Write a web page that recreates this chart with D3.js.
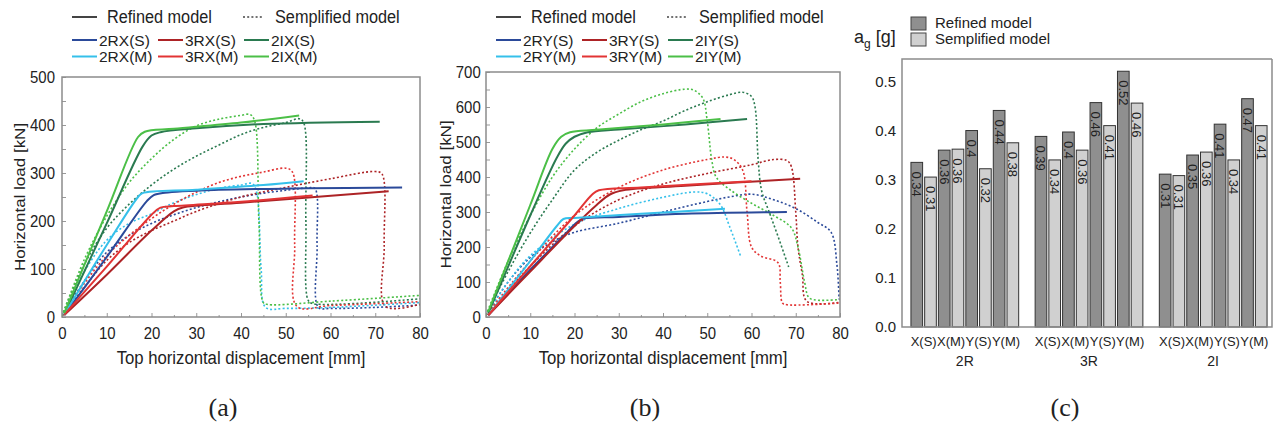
<!DOCTYPE html>
<html>
<head>
<meta charset="utf-8">
<script src="https://cdn.jsdelivr.net/npm/d3@7"></script>
<style>
body { margin: 0; background: #fff; }
text { font-family: "Liberation Sans", Arial, sans-serif; fill: #222; }
</style>
</head>
<body>
<svg id="fig" width="1274" height="426"></svg>
<script>

// ---- panel (a): X direction, [displacement mm, load kN]
var ref2RXS = [[0.5,4],[10,125],[19,242],[20.5,254],[23,259],[35,265],[55,268],[76,270]];
var ref2RXM = [[0.5,5],[10,150],[17,250],[18,258],[30,265],[45,275],[54,283]];
var ref3RXS = [[0.5,4],[10,88],[20,180],[25,220],[27,228],[40,238],[73,262]];
var ref3RXM = [[0.5,5],[10,105],[20,213],[22,228],[25,231],[40,240],[56,253]];
var ref2IXS = [[0.5,5],[10,195],[18,355],[20,378],[22,385],[30,393],[45,402],[71,407]];
var ref2IXM = [[0.5,8],[10,220],[17,375],[18.5,386],[25,392],[40,405],[53,420]];

var sem2RXS = [[0,2],[5,75],[10,135],[15,170],[20,195],[25,213],[30,228],[35,240],[40,250],[45,258],[50,264],[55,269],[56.5,268],[57,150],[57.3,20],[60,18],[70,20],[80,25]];
var sem2RXM = [[0,2],[5,95],[10,160],[15,195],[20,215],[25,238],[30,255],[35,268],[40,275],[42.5,278],[43.5,260],[44.5,100],[45.5,20],[50,18],[60,20],[80,30]];
var sem3RXS = [[0,2],[5,62],[10,118],[15,155],[20,180],[25,200],[30,220],[40,250],[50,270],[60,288],[70,303],[71.5,298],[72,150],[72.3,22],[80,27]];
var sem3RXM = [[0,2],[5,70],[10,128],[15,170],[20,205],[25,235],[30,260],[35,280],[40,293],[45,302],[50,310],[51.5,302],[52,150],[52.5,22],[60,24],[80,32]];
var sem2IXS = [[0,2],[5,110],[10,185],[15,235],[20,275],[25,308],[30,335],[35,358],[40,380],[45,395],[50,405],[53,413],[54,405],[54.5,200],[55,35],[56,28],[80,38]];
var sem2IXM = [[0,2],[5,120],[10,210],[15,280],[20,330],[25,370],[30,398],[35,412],[40,420],[42,422],[43,410],[44,200],[45,30],[46,26],[60,33],[80,45]];

// ---- panel (b): Y direction
var ref2RYS = [[0.5,5],[10,135],[18,238],[20.5,270],[22,281],[30,286],[45,295],[68,300]];
var ref2RYM = [[0.5,5],[10,160],[16,260],[17.5,280],[20,283],[35,295],[54,309]];
var ref3RYS = [[0.5,5],[10,130],[20,260],[25,320],[28,350],[31,362],[45,375],[71,395]];
var ref3RYM = [[0.5,5],[10,145],[20,290],[24,350],[25.5,362],[35,370],[60,388]];
var ref2IYS = [[0.5,10],[10,290],[16,455],[18,495],[20,515],[23,528],[30,536],[45,550],[59,566]];
var ref2IYM = [[0.5,15],[10,320],[15,480],[17,515],[19,528],[25,535],[40,550],[53,566]];

var sem2RYS = [[0,5],[5,100],[10,170],[15,215],[20,242],[30,268],[40,300],[50,330],[55,343],[60,351],[65,335],[70,310],[75,270],[78,242],[79.3,150],[79.8,50]];
var sem2RYM = [[0,5],[5,100],[10,175],[20,265],[30,310],[40,342],[47,357],[50,352],[53,320],[55,260],[57.5,175]];
var sem3RYS = [[0,5],[10,145],[20,260],[30,335],[40,380],[50,410],[60,435],[65,450],[68,447],[69,430],[70,300],[70.5,200],[71.5,120],[72.5,45],[80,42]];
var sem3RYM = [[0,5],[10,160],[20,290],[30,370],[40,420],[50,450],[54,457],[56,450],[58,420],[59,300],[60,200],[62,175],[66,155],[66.5,100],[67,40],[68,35],[80,40]];
var sem2IYS = [[0,5],[5,130],[10,240],[15,335],[20,420],[25,470],[30,505],[35,535],[40,560],[45,590],[50,615],[55,635],[58,642],[60,630],[60.8,600],[61.5,450],[62.3,360],[64,300],[66,230],[68.4,143]];
var sem2IYM = [[0,5],[5,160],[10,290],[15,400],[20,480],[25,540],[30,580],[35,615],[40,638],[45,651],[47,648],[49,625],[50,560],[51,450],[52,400],[55,365],[60,325],[65,290],[69,255],[70.5,200],[72,100],[73,55],[75,48],[80,50]];

// ---- panel (c): a_g [g]
var groups = ["2R", "3R", "2I"];
var cases = ["X(S)", "X(M)", "Y(S)", "Y(M)"];
var models = ["Refined model", "Semplified model"];
var refined2R = [0.336, 0.361, 0.401, 0.442];
var semplified2R = [0.306, 0.363, 0.323, 0.376];
var refined3R = [0.389, 0.398, 0.458, 0.522];
var semplified3R = [0.341, 0.361, 0.411, 0.457];
var refined2I = [0.312, 0.351, 0.414, 0.466];
var semplified2I = [0.309, 0.357, 0.341, 0.411];

var xTicks = [0, 10, 20, 30, 40, 50, 60, 70, 80];

var colS = {"2R": "#2b4a9a", "3R": "#ad2326", "2I": "#2a7a50"};
var colM = {"2R": "#35c0ea", "3R": "#e23434", "2I": "#4bbf47"};

var sq = 0.88;   // the source figure is a bit squeezed sideways
var svg = d3.select("#fig");

function label(g, x, y, str, size, anchor, s) {
  return g.append("text")
      .attr("transform", "translate(" + x + "," + y + ") scale(" + (s || sq) + ",1)")
      .attr("text-anchor", anchor || "start")
      .style("font-size", size + "px")
      .text(str);
}

function curvePanel(o) {
  var x = d3.scaleLinear().domain([0, 80]).range([o.left, o.right]);
  var y = d3.scaleLinear().domain([0, o.ymax]).range([o.bottom, o.top]);
  var g = svg.append("g");

  // inward ticks, major + minor
  g.append("g").attr("transform", "translate(0," + o.bottom + ")")
      .call(d3.axisBottom(x).tickValues(xTicks).tickSize(-4).tickPadding(10));
  g.append("g").attr("transform", "translate(0," + o.bottom + ")")
      .call(d3.axisBottom(x).tickValues(d3.range(5, 80, 10)).tickSize(-2).tickFormat(""));
  g.append("g").attr("transform", "translate(" + o.left + ",0)")
      .call(d3.axisLeft(y).tickValues(d3.range(0, o.ymax + 1, 100)).tickSize(-4).tickPadding(o.ypad));
  g.append("g").attr("transform", "translate(" + o.left + ",0)")
      .call(d3.axisLeft(y).tickValues(d3.range(50, o.ymax, 100)).tickSize(-4).tickFormat(""));
  g.selectAll(".domain").remove();
  g.selectAll(".tick line").attr("stroke", "#999");
  g.selectAll(".tick text").style("font-size", "17px").attr("fill", "#222")
      .style("font-family", "'Liberation Sans', Arial, sans-serif")
      .attr("transform", "scale(" + sq + ",1)");

  var clipId = "clip" + o.id;
  g.append("clipPath").attr("id", clipId).append("rect")
      .attr("x", o.left).attr("y", o.top).attr("width", o.right - o.left).attr("height", o.bottom - o.top);

  var line = d3.line()
      .x(function(d) { return x(d[0]); })
      .y(function(d) { return y(d[1]); })
      .curve(d3.curveCatmullRom.alpha(0.5));

  var lines = g.append("g").attr("clip-path", "url(#" + clipId + ")");
  o.series.forEach(function(s) {
    lines.append("path").datum(s.sem)
        .attr("fill", "none").attr("stroke", s.color)
        .attr("stroke-width", 1.6).attr("stroke-dasharray", "2,2.2")
        .attr("d", line);
  });
  o.series.forEach(function(s) {
    lines.append("path").datum(s.ref)
        .attr("fill", "none").attr("stroke", s.color)
        .attr("stroke-width", 2)
        .attr("d", line);
  });

  // frame
  g.append("rect").attr("x", o.left).attr("y", o.top)
      .attr("width", o.right - o.left).attr("height", o.bottom - o.top)
      .attr("fill", "none").attr("stroke", "#8c8c8c").attr("stroke-width", 1.5);

  // axis titles
  label(g, (o.left + o.right) / 2, 364, "Top horizontal displacement [mm]", 19, "middle");
  g.append("text")
      .attr("transform", "translate(" + o.ytitleX + "," + ((o.top + o.bottom) / 2) + ") rotate(-90) scale(1," + sq + ")")
      .attr("text-anchor", "middle").style("font-size", "17px")
      .text("Horizontal load [kN]");

  // legend
  var lx = o.left;
  g.append("line").attr("x1", lx + 10).attr("x2", lx + 35).attr("y1", 17).attr("y2", 17)
      .attr("stroke", "#444").attr("stroke-width", 2);
  label(g, lx + 45, 23, "Refined model", 18.5);
  g.append("line").attr("x1", lx + 181).attr("x2", lx + 202).attr("y1", 17).attr("y2", 17)
      .attr("stroke", "#444").attr("stroke-width", 1.6).attr("stroke-dasharray", "2,2.2");
  label(g, lx + 213, 23, "Semplified model", 18.5);

  o.series.forEach(function(s, i) {
    var col = i % 3, row = Math.floor(i / 3);
    var cy = 40 + row * 16.5;
    var cx = lx + 10 + col * 86;
    g.append("line").attr("x1", cx).attr("x2", cx + 25).attr("y1", cy).attr("y2", cy)
        .attr("stroke", s.color).attr("stroke-width", 2);
    label(g, cx + 27, cy + 5.5, s.name, 15.5, "start", 1);
  });

  svg.append("text").attr("x", (o.left + o.right) / 2 - 18).attr("y", 416)
      .attr("text-anchor", "middle")
      .style("font-family", "'Liberation Serif', 'Times New Roman', serif").style("font-size", "26px")
      .text(o.caption);
}

curvePanel({
  id: "a", left: 62, right: 420, top: 77, bottom: 317, ymax: 500, ypad: 8, ytitleX: 25, caption: "(a)",
  series: [
    {name: "2RX(S)", color: colS["2R"], ref: ref2RXS, sem: sem2RXS},
    {name: "3RX(S)", color: colS["3R"], ref: ref3RXS, sem: sem3RXS},
    {name: "2IX(S)", color: colS["2I"], ref: ref2IXS, sem: sem2IXS},
    {name: "2RX(M)", color: colM["2R"], ref: ref2RXM, sem: sem2RXM},
    {name: "3RX(M)", color: colM["3R"], ref: ref3RXM, sem: sem3RXM},
    {name: "2IX(M)", color: colM["2I"], ref: ref2IXM, sem: sem2IXM}
  ]
});

curvePanel({
  id: "b", left: 486, right: 840, top: 72, bottom: 317, ymax: 700, ypad: 6, ytitleX: 451, caption: "(b)",
  series: [
    {name: "2RY(S)", color: colS["2R"], ref: ref2RYS, sem: sem2RYS},
    {name: "3RY(S)", color: colS["3R"], ref: ref3RYS, sem: sem3RYS},
    {name: "2IY(S)", color: colS["2I"], ref: ref2IYS, sem: sem2IYS},
    {name: "2RY(M)", color: colM["2R"], ref: ref2RYM, sem: sem2RYM},
    {name: "3RY(M)", color: colM["3R"], ref: ref3RYM, sem: sem3RYM},
    {name: "2IY(M)", color: colM["2I"], ref: ref2IYM, sem: sem2IYM}
  ]
});

// ---- bar panel (c)
(function() {
  var left = 902, right = 1272, top = 59, bottom = 327;
  var fills = ["#8f8f8f", "#d0d0d0"];
  var data = {
    "2R": [refined2R, semplified2R],
    "3R": [refined3R, semplified3R],
    "2I": [refined2I, semplified2I]
  };
  var x0 = d3.scaleBand().domain(groups).range([left, 1276]).paddingInner(0.1325).paddingOuter(0.072);
  var x1 = d3.scaleBand().domain(d3.range(8)).range([0, x0.bandwidth()]).paddingInner(0.15).paddingOuter(0);
  var y = d3.scaleLinear().domain([0, 0.547]).range([bottom, top]);
  var fmt = d3.format(".2~f");
  var g = svg.append("g");

  var ya = g.append("g").attr("transform", "translate(" + left + ",0)")
      .call(d3.axisLeft(y).tickValues([0, 0.1, 0.2, 0.3, 0.4, 0.5]).tickFormat(d3.format(".1f")).tickSize(0).tickPadding(6));
  ya.select(".domain").remove();
  ya.selectAll("text").style("font-size", "15px").style("font-family", "'Liberation Sans', Arial, sans-serif");

  groups.forEach(function(grp) {
    var bars = [];
    cases.forEach(function(c, i) {
      bars.push({v: data[grp][0][i], k: 0, i: i * 2});
      bars.push({v: data[grp][1][i], k: 1, i: i * 2 + 1});
    });
    var gg = g.append("g").attr("transform", "translate(" + x0(grp) + ",0)");
    gg.selectAll("rect").data(bars).enter().append("rect")
        .attr("x", function(d) { return x1(d.i); })
        .attr("y", function(d) { return y(d.v); })
        .attr("width", x1.bandwidth())
        .attr("height", function(d) { return bottom - y(d.v); })
        .attr("fill", function(d) { return fills[d.k]; })
        .attr("stroke", "#333").attr("stroke-width", 1);
    gg.selectAll("text.val").data(bars).enter().append("text").attr("class", "val")
        .attr("transform", function(d) {
          return "translate(" + (x1(d.i) + x1.bandwidth() / 2) + "," + (y(d.v) + 9) + ") rotate(90)";
        })
        .attr("dy", "0.35em").style("font-size", "13px")
        .text(function(d) { return fmt(d.v); });
    // case labels under each pair
    gg.selectAll("text.case").data(cases).enter().append("text").attr("class", "case")
        .attr("x", function(c, i) { return (x1(i * 2) + x1(i * 2 + 1) + x1.bandwidth()) / 2; })
        .attr("y", 346).attr("text-anchor", "middle").style("font-size", "13px")
        .text(function(c) { return c; });
    gg.append("text").attr("x", x0.bandwidth() / 2).attr("y", 366)
        .attr("text-anchor", "middle").style("font-size", "14px").text(grp);
  });

  g.append("path")
      .attr("d", "M" + right + "," + top + "H" + left + "V" + bottom + "H" + right + "V" + top)
      .attr("fill", "none").attr("stroke", "#8c8c8c").attr("stroke-width", 1.5);

  // legend
  models.forEach(function(m, i) {
    g.append("rect").attr("x", 911).attr("y", 17 + i * 16).attr("width", 15).attr("height", 13)
        .attr("fill", fills[i]).attr("stroke", "#444");
    g.append("text").attr("x", 935).attr("y", 28 + i * 16).style("font-size", "15px").text(m);
  });
  var t = g.append("text").attr("x", 854).attr("y", 43).style("font-size", "18px");
  t.append("tspan").text("a");
  t.append("tspan").attr("dy", 5).style("font-size", "12px").text("g");
  t.append("tspan").attr("dy", -5).text(" [g]");

  svg.append("text").attr("x", 1065).attr("y", 416).attr("text-anchor", "middle")
      .style("font-family", "'Liberation Serif', 'Times New Roman', serif").style("font-size", "26px")
      .text("(c)");
})();
</script>
</body>
</html>
